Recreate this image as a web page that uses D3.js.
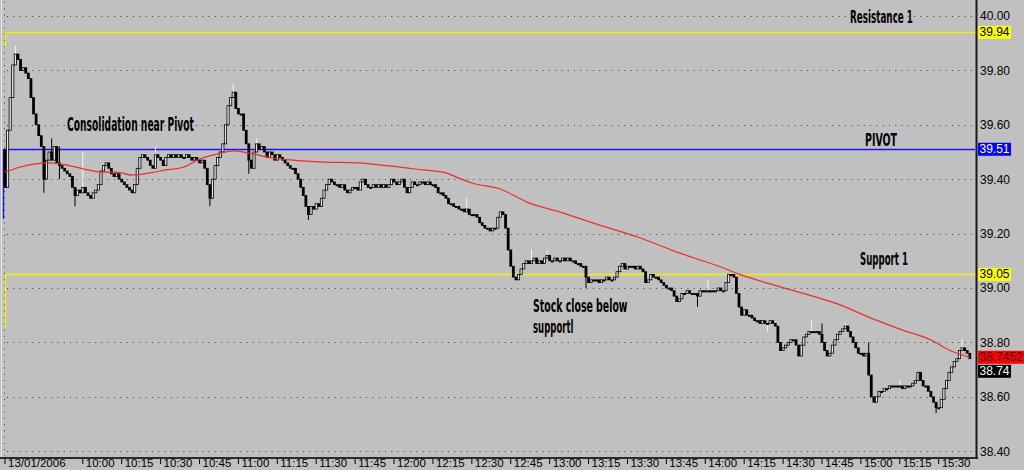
<!DOCTYPE html>
<html><head><meta charset="utf-8">
<script src="https://cdn.jsdelivr.net/npm/d3@7"></script>
<style>
html,body{margin:0;padding:0;background:#c0c0c0;overflow:hidden;}
svg{display:block;}
</style></head><body>
<svg id="chart" width="1024" height="470"></svg>
<script>
// ---------- DATA ----------
// one-minute bars starting at 09:30 on 13/01/2006 (index = minutes after 09:30)
const firstOpen = 39.51;
const closes = [
39.37,39.58,39.70,39.82,39.86,39.84,39.80,39.81,39.79,39.77,
39.70,39.64,39.60,39.56,39.52,39.40,39.47,39.50,39.47,39.52,
39.46,39.45,39.44,39.43,39.42,39.41,39.37,39.34,39.36,39.35,
39.37,39.35,39.34,39.33,39.35,39.36,39.38,39.43,39.45,39.46,
39.44,39.42,39.41,39.42,39.40,39.39,39.38,39.37,39.36,39.35,
39.38,39.44,39.48,39.49,39.48,39.47,39.45,39.44,39.49,39.48,
39.47,39.45,39.48,39.49,39.48,39.49,39.48,39.49,39.48,39.48,
39.49,39.48,39.47,39.48,39.47,39.46,39.47,39.44,39.38,39.33,
39.40,39.45,39.48,39.50,39.53,39.60,39.67,39.70,39.72,39.66,
39.64,39.64,39.58,39.53,39.47,39.44,39.50,39.53,39.51,39.52,
39.50,39.48,39.50,39.49,39.47,39.49,39.48,39.47,39.46,39.45,
39.44,39.44,39.42,39.40,39.37,39.34,39.30,39.27,39.30,39.29,
39.31,39.30,39.33,39.36,39.38,39.40,39.39,39.38,39.38,39.37,
39.38,39.36,39.35,39.36,39.37,39.37,39.36,39.39,39.40,39.38,
39.37,39.37,39.38,39.37,39.38,39.37,39.38,39.37,39.38,39.40,
39.39,39.38,39.39,39.40,39.37,39.35,39.37,39.39,39.38,39.38,
39.39,39.39,39.38,39.39,39.38,39.38,39.37,39.35,39.35,39.34,
39.33,39.31,39.31,39.30,39.30,39.29,39.29,39.28,39.29,39.27,
39.27,39.27,39.26,39.24,39.23,39.22,39.22,39.21,39.22,39.22,
39.26,39.28,39.27,39.22,39.14,39.08,39.04,39.03,39.05,39.07,
39.09,39.10,39.09,39.10,39.11,39.09,39.10,39.09,39.11,39.12,
39.10,39.10,39.11,39.10,39.10,39.11,39.10,39.11,39.10,39.10,
39.09,39.09,39.08,39.08,39.04,39.02,39.03,39.03,39.03,39.02,
39.03,39.03,39.04,39.03,39.03,39.04,39.06,39.08,39.09,39.07,
39.08,39.08,39.08,39.07,39.08,39.07,39.06,39.02,39.03,39.05,
39.04,39.04,39.03,39.02,39.01,39.00,39.00,38.99,38.97,38.95,
38.96,38.98,38.98,38.99,38.98,38.98,38.98,38.97,38.99,38.99,
38.99,38.99,38.99,38.99,38.99,39.00,38.99,38.99,39.02,39.05,
39.05,39.04,38.98,38.93,38.90,38.92,38.90,38.90,38.89,38.88,
38.88,38.87,38.88,38.87,38.87,38.88,38.87,38.86,38.80,38.77,
38.78,38.79,38.80,38.81,38.81,38.79,38.75,38.79,38.82,38.83,
38.84,38.84,38.84,38.84,38.83,38.80,38.77,38.75,38.76,38.79,
38.81,38.83,38.84,38.85,38.86,38.84,38.82,38.80,38.78,38.76,
38.76,38.75,38.76,38.68,38.60,38.58,38.60,38.62,38.62,38.63,
38.63,38.64,38.64,38.64,38.64,38.64,38.63,38.64,38.64,38.64,
38.65,38.66,38.69,38.66,38.64,38.64,38.62,38.60,38.58,38.56,
38.56,38.59,38.63,38.66,38.69,38.71,38.73,38.74,38.77,38.78,
38.77,38.76,38.74
];
// wick extremes beyond the candle bodies: [bar index, price]
const wickHighs = [[4,39.89],[18,39.55],[21,39.52],[30,39.50],[58,39.52],[88,39.75],[97,39.55],
  [178,39.33],[203,39.14],[209,39.14],[271,39.03],[311,38.88],[315,38.87],[324,38.87],[333,38.80],[345,38.66],[369,38.81]];
const wickLows = [[15,39.35],[21,39.40],[27,39.30],[79,39.30],[94,39.42],[117,39.25],[224,39.00],
  [267,38.93],[294,38.84],[359,38.54]];
// moving average (red line): [bar index] and value
const maIndex = [0,6,17,24,32,37,43,49,56,62,69,75,82,88,94,103,110,123,136,148,161,170,175,180,191,202,214,229,245,260,276,283,299,314,322,333,345,357,364,372];
const maValue = [39.426,39.445,39.460,39.452,39.434,39.426,39.426,39.415,39.423,39.434,39.445,39.474,39.493,39.504,39.496,39.478,39.471,39.463,39.460,39.449,39.434,39.423,39.404,39.386,39.364,39.313,39.279,39.232,39.184,39.129,39.077,39.051,39.004,38.963,38.938,38.893,38.849,38.809,38.772,38.7452];
// pivot levels
const levelNames = ["Resistance 1","PIVOT","Support 1"];
const levelValues = [39.94, 39.51, 39.05];
// axes
const xTickMinutes = [0,30,45,60,75,90,105,120,135,150,165,180,195,210,225,240,255,270,285,300,315,330,345,360];
const xTickLabels = ["13/01/2006","10:00","10:15","10:30","10:45","11:00","11:15","11:30","11:45","12:00","12:15","12:30","12:45","13:00","13:15","13:30","13:45","14:00","14:15","14:30","14:45","15:00","15:15","15:30"];
const yTickValues = [38.40,38.60,38.80,39.00,39.20,39.40,39.60,39.80,40.00];
// annotations
const noteTexts = ["Consolidation near Pivot","Stock close below","supportl"];

// ---------- DRAWING ----------
const svg = d3.select("#chart");
const levelColors = ["#f2f200","#1414ff","#f2f200"];
const tagBg = ["#ffff00","#0000ff","#ffff00"];
const tagText = ["#000","#fff","#000"];
const x = d3.scaleLinear().domain([0,360]).range([5,938.7]);
const y = d3.scaleLinear().domain([38.4,40.0]).range([451.2,16]);
const plotRight = 975;
const axisFont = "11.5px 'Liberation Sans', Arial, sans-serif";

svg.append("rect").attr("width",1024).attr("height",470).attr("fill","#c0c0c0");

// left light edge + dotted vertical
svg.append("line").attr("x1",1.5).attr("x2",1.5).attr("y1",0).attr("y2",457).attr("stroke","#e6e6e6").attr("stroke-width",1);
svg.append("line").attr("x1",4.5).attr("x2",4.5).attr("y1",2).attr("y2",456).attr("stroke","#404040").attr("stroke-dasharray","1,5.3");

// horizontal dotted grid
svg.append("g").selectAll("line").data(yTickValues).join("line")
  .attr("x1",7).attr("x2",plotRight)
  .attr("y1",d=>Math.round(y(d))+0.5).attr("y2",d=>Math.round(y(d))+0.5)
  .attr("stroke","#404040").attr("stroke-width",1).attr("stroke-dasharray","1,5.3");

// level lines
const lv = svg.append("g");
levelValues.forEach((v,i)=>{
  const yy = Math.round(y(v))+0.5;
  lv.append("line").attr("x1",5).attr("x2",plotRight).attr("y1",yy).attr("y2",yy)
    .attr("stroke",levelColors[i]).attr("stroke-width", 1.3);
});
// start markers of the level lines
lv.append("line").attr("x1",5.5).attr("x2",5.5).attr("y1",Math.round(y(levelValues[0]))).attr("y2",Math.round(y(levelValues[0]))+15).attr("stroke",levelColors[0]).attr("stroke-width",1.3);
lv.append("line").attr("x1",3.5).attr("x2",3.5).attr("y1",Math.round(y(levelValues[1]))).attr("y2",Math.round(y(levelValues[1]))+70).attr("stroke",levelColors[1]).attr("stroke-width",1.3);
lv.append("line").attr("x1",5.5).attr("x2",5.5).attr("y1",Math.round(y(levelValues[2]))).attr("y2",Math.round(y(levelValues[2]))+54).attr("stroke",levelColors[2]).attr("stroke-width",1.3);

// candles
const hiMap = new Map(wickHighs), loMap = new Map(wickLows);
const bars = closes.map((c,i)=>{
  const o = i===0 ? firstOpen : closes[i-1];
  const h = Math.max(o,c, hiMap.has(i)?hiMap.get(i):-Infinity);
  const l = Math.min(o,c, loMap.has(i)?loMap.get(i):Infinity);
  return {i,o,h,l,c,up:c>=o};
});
const cg = svg.append("g");
bars.forEach(b=>{
  const cx = x(b.i);
  if (b.h > Math.max(b.o,b.c) || b.l < Math.min(b.o,b.c)) {
    cg.append("line").attr("x1",cx).attr("x2",cx).attr("y1",y(b.h)).attr("y2",y(b.l))
      .attr("stroke", b.up ? "#f4f4f4" : "#000").attr("stroke-width",1);
  }
  const top = y(Math.max(b.o,b.c)), bot = y(Math.min(b.o,b.c));
  const hgt = Math.max(1.2, bot-top);
  if (b.up && b.c !== b.o) {
    cg.append("rect").attr("x",cx-1.1).attr("y",top).attr("width",2.2).attr("height",hgt)
      .attr("fill","#e6e6e6").attr("stroke","#000").attr("stroke-width",0.8);
  } else {
    cg.append("rect").attr("x",cx-1.4).attr("y",top-0.4).attr("width",2.8).attr("height",hgt+0.8)
      .attr("fill","#000");
  }
});

// moving average
const ma = maIndex.map((t,i)=>[t,maValue[i]]);
svg.append("path").datum(ma)
  .attr("d", d3.line().x(d=>x(d[0])).y(d=>y(d[1])).curve(d3.curveMonotoneX))
  .attr("fill","none").attr("stroke","#e8302c").attr("stroke-width",1.2);

// axis frame
svg.append("line").attr("x1",0).attr("x2",978).attr("y1",458).attr("y2",458).attr("stroke","#2a2a2a").attr("stroke-width",2);
svg.append("line").attr("x1",976.5).attr("x2",976.5).attr("y1",0).attr("y2",459).attr("stroke","#1a1a1a").attr("stroke-width",2);

// bottom axis
const xAxis = d3.axisBottom(x).tickValues(xTickMinutes).tickFormat((d,i)=>xTickLabels[i]).tickSize(5);
const gx = svg.append("g").attr("transform","translate(0,459)").call(xAxis);
gx.select(".domain").remove();
gx.selectAll(".tick line").attr("stroke","#000").attr("transform","translate(-0.5,0)");
gx.selectAll(".tick text").attr("text-anchor","start").attr("x",2.5).attr("y",8.3).attr("dy",0)
  .attr("fill","#000").style("font",axisFont);

// right axis
const yAxis = d3.axisRight(y).tickValues(yTickValues).tickFormat(d3.format(".2f")).tickSize(0).tickPadding(3);
const gy = svg.append("g").attr("transform","translate(977,0)").call(yAxis);
gy.select(".domain").remove();
gy.selectAll(".tick text").attr("fill","#000").style("font","12px 'Liberation Sans', Arial, sans-serif");

// value tags
function tag(value, yc, bg, fg, label){
  const g = svg.append("g");
  const t = g.append("text").attr("x",979.5).attr("y",yc).attr("dy","0.34em")
    .attr("fill",fg).style("font","12px 'Liberation Sans', Arial, sans-serif").text(label);
  const w = t.node().getComputedTextLength();
  g.insert("rect","text").attr("x",978).attr("y",yc-6.5).attr("width",w+3).attr("height",13).attr("fill",bg);
  return yc;
}
levelValues.forEach((v,i)=> tag(v, y(v), tagBg[i], tagText[i], d3.format(".2f")(v)));
const maLast = maValue[maValue.length-1], lastClose = closes[closes.length-1];
const maY = tag(maLast, y(maLast), "#ff0000", "#3a0000", d3.format(".4f")(maLast));
let cy = y(lastClose);
if (Math.abs(cy-maY) < 14) cy = maY + 14;
tag(lastClose, cy, "#000", "#fff", d3.format(".2f")(lastClose));

// annotations
const noteFont = "'Liberation Sans Narrow','Arial Narrow','DejaVu Sans Condensed','Liberation Sans',sans-serif";
function note(txt, px, py, w, fs){
  svg.append("text").attr("x",px).attr("y",py).attr("textLength",w).attr("lengthAdjust","spacingAndGlyphs")
    .attr("fill","#000").style("font-family",noteFont).style("font-size",fs+"px").style("font-weight","bold").text(txt);
}
note(levelNames[0], 850, 23, 63, 18.5);
note(noteTexts[0], 67, 131, 127, 19);
note(levelNames[1], 865, 146, 32, 18.5);
note(levelNames[2], 860, 264.5, 48, 18.5);
note(noteTexts[1], 533, 311.5, 94.5, 18.5);
note(noteTexts[2], 533, 332.5, 40.5, 18.5);
</script>
</body></html>
